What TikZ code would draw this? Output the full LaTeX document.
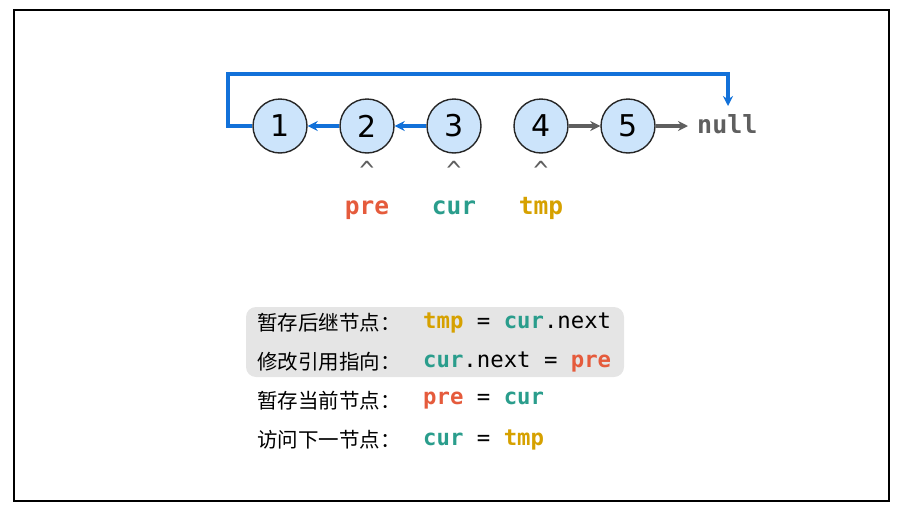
\documentclass[tikz,border=0pt]{standalone}
\usepackage{fontspec}
\setmainfont{DejaVu Sans}
\setmonofont{DejaVu Sans Mono}
\newfontfamily\cjk{Noto Sans CJK SC}
\usetikzlibrary{arrows.meta}
\definecolor{cblue}{HTML}{1271D9}
\definecolor{cfill}{HTML}{CCE4FB}
\definecolor{cgray}{HTML}{5F5F5F}
\definecolor{cpre}{HTML}{E55B3C}
\definecolor{ccur}{HTML}{2A9D8C}
\definecolor{ctmp}{HTML}{D6A100}
\definecolor{cbox}{HTML}{E5E5E5}
\newcommand{\kpre}{\textcolor{cpre}{\textbf{pre}}}
\newcommand{\kcur}{\textcolor{ccur}{\textbf{cur}}}
\newcommand{\ktmp}{\textcolor{ctmp}{\textbf{tmp}}}
\begin{document}
\begin{tikzpicture}[x=1pt,y=-1pt,
  lnode/.style={circle,draw=black!85,line width=1.4pt,fill=cfill,minimum size=54pt,inner sep=0pt,font=\fontsize{30}{32}\selectfont},
  bluearr/.style={draw=cblue,line width=3.2pt,-{Stealth[length=10pt,width=10pt]}},
  grayarr/.style={draw=cgray,line width=3.2pt,-{Stealth[length=10pt,width=10pt]}},
  caret/.style={text=cgray,font=\fontsize{25}{26}\ttfamily},
  ptr/.style={anchor=base,inner sep=0pt,font=\fontsize{24.5}{26}\ttfamily\bfseries},
  cnlabel/.style={anchor=west,inner sep=0pt,font=\fontsize{20.5}{22}\cjk},
  code/.style={anchor=west,inner sep=0pt,font=\fontsize{22.3}{24}\ttfamily}
]
\useasboundingbox (0,0) rectangle (898,509);
\draw[line width=2pt] (14,10) rectangle (889,501);
\fill[cbox,rounded corners=10pt] (246,307) rectangle (624,377);
\node[lnode] (n1) at (280,126) {1};
\node[lnode] (n2) at (367,126) {2};
\node[lnode] (n3) at (454,126) {3};
\node[lnode] (n4) at (541,126) {4};
\node[lnode] (n5) at (628,126) {5};
\node[anchor=base west,text=cgray,font=\fontsize{25}{26}\ttfamily\bfseries,inner sep=0pt] (null) at (697,133) {null};
\coordinate (tnull) at (728,106);
\coordinate (nulll) at (688,126);
\draw[bluearr] (n2.west) -- (n1.east);
\draw[bluearr] (n3.west) -- (n2.east);
\draw[grayarr] (n4.east) -- (n5.west);
\draw[grayarr] (n5.east) -- (nulll);
\draw[bluearr] (n1.west) -| (228,74) -| (tnull);
\node[caret] (c2) at (367,170) {\^{}};
\node[caret] (c3) at (454,170) {\^{}};
\node[caret] (c4) at (541,170) {\^{}};
\node[ptr,text=cpre] (lpre) at (367,214) {pre};
\node[ptr,text=ccur] (lcur) at (454,214) {cur};
\node[ptr,text=ctmp] (ltmp) at (541,214) {tmp};
\node[cnlabel] (t1) at (257,323) {暂存后继节点：};
\node[cnlabel] (t2) at (257,362) {修改引用指向：};
\node[cnlabel] (t3) at (257,401) {暂存当前节点：};
\node[cnlabel] (t4) at (257,440) {访问下一节点：};
\node[code] (k1) at (423,323) {\ktmp{} = \kcur.next};
\node[code] (k2) at (423,362) {\kcur.next = \kpre};
\node[code] (k3) at (423,401) {\kpre{} = \kcur};
\node[code] (k4) at (423,440) {\kcur{} = \ktmp};
\end{tikzpicture}
\end{document}
